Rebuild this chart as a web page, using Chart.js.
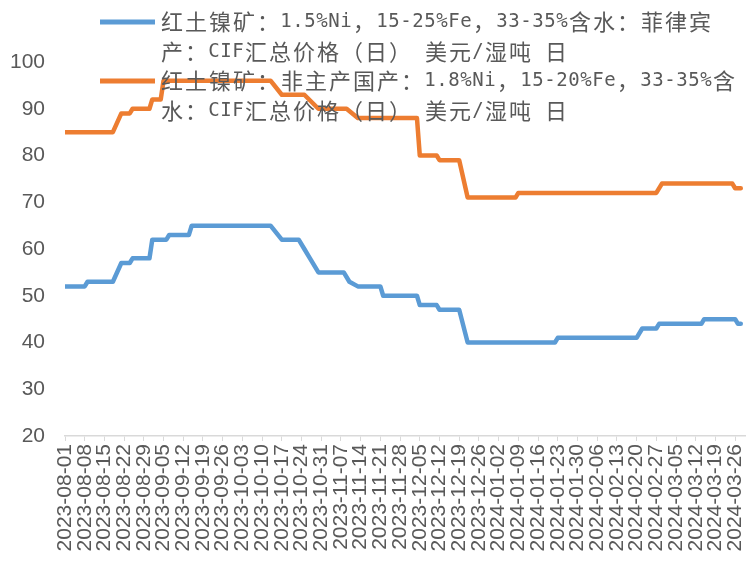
<!DOCTYPE html>
<html><head><meta charset="utf-8">
<script src="https://cdn.jsdelivr.net/npm/chart.js@4.4.0/dist/chart.umd.min.js"></script>
<style>html,body{margin:0;padding:0;background:#fff;} #wrap{width:748px;height:563px;}</style>
</head><body><div id="wrap"><canvas id="c" width="748" height="563"></canvas></div>
<script>
const tickLabels = ["2023-08-01","2023-08-08","2023-08-15","2023-08-22","2023-08-29","2023-09-05","2023-09-12","2023-09-19","2023-09-26","2023-10-03","2023-10-10","2023-10-17","2023-10-24","2023-10-31","2023-11-07","2023-11-14","2023-11-21","2023-11-28","2023-12-05","2023-12-12","2023-12-19","2023-12-26","2024-01-02","2024-01-09","2024-01-16","2024-01-23","2024-01-30","2024-02-06","2024-02-13","2024-02-20","2024-02-27","2024-03-05","2024-03-12","2024-03-19","2024-03-26"];
const yTickValues = [20,30,40,50,60,70,80,90,100];

const blueLabel = ["红土镍矿：1.5%Ni，15-25%Fe，33-35%含水：菲律宾","产：CIF汇总价格（日） 美元/湿吨 日"];
const blueDates = ["2023-08-01","2023-08-08","2023-08-09","2023-08-18","2023-08-21","2023-08-24","2023-08-25","2023-08-31","2023-09-01","2023-09-06","2023-09-07","2023-09-14","2023-09-15","2023-10-13","2023-10-17","2023-10-23","2023-10-25","2023-10-27","2023-10-30","2023-11-08","2023-11-10","2023-11-13","2023-11-21","2023-11-22","2023-12-04","2023-12-05","2023-12-11","2023-12-12","2023-12-19","2023-12-22","2024-01-22","2024-01-23","2024-02-20","2024-02-22","2024-02-27","2024-02-28","2024-03-14","2024-03-15","2024-03-26","2024-03-27","2024-03-28"];
const blueValues = [52,52,53,53,57,57,58,58,62,62,63,63,65,65,62,62,60,58,55,55,53,52,52,50,50,48,48,47,47,40,40,41,41,43,43,44,44,45,45,44,44];

const orangeLabel = ["红土镍矿：非主产国产：1.8%Ni，15-20%Fe，33-35%含","水：CIF汇总价格（日） 美元/湿吨 日"];
const orangeDates = ["2023-08-01","2023-08-18","2023-08-21","2023-08-24","2023-08-25","2023-08-31","2023-09-01","2023-09-04","2023-09-05","2023-10-13","2023-10-17","2023-10-25","2023-10-30","2023-11-09","2023-11-13","2023-12-04","2023-12-05","2023-12-11","2023-12-12","2023-12-19","2023-12-22","2024-01-08","2024-01-09","2024-02-27","2024-02-29","2024-03-25","2024-03-26","2024-03-28"];
const orangeValues = [85,85,89,89,90,90,92,92,96,96,93,93,90,90,88,88,80,80,79,79,71,71,72,72,74,74,73,73];

const BLUE = '#5B9BD5', ORANGE = '#ED7D31', TEXT = '#595959', AXIS = '#D9D9D9';

function dayIndex(s){
  const a = s.split('-').map(Number), b = tickLabels[0].split('-').map(Number);
  return (Date.UTC(a[0],a[1]-1,a[2]) - Date.UTC(b[0],b[1]-1,b[2]))/86400000;
}
function pts(dates, vals){ return dates.map((d,i)=>({x: dayIndex(d), y: vals[i]})); }

function isFull(ch){ return ch.codePointAt(0) >= 0x2E80; }
function drawMono(ctx, str, x, y, full){
  const half = full/2;
  let cx = x;
  for (const ch of str){
    const f = isFull(ch);
    const w = f ? full : half;
    ctx.font = f ? '22px "Noto Sans CJK SC"' : '19px "DejaVu Sans Mono"';
    ctx.fillText(ch, cx + w/2, y);
    cx += w;
  }
}
const legendPlugin = {
  id: 'monoLegend',
  afterDatasetsDraw(chart){
    const ctx = chart.ctx;
    const rows = [22, 81];
    ctx.save();
    chart.data.datasets.forEach((ds, i) => {
      const y0 = rows[i];
      ctx.strokeStyle = ds.borderColor; ctx.lineWidth = 5; ctx.lineCap = 'butt';
      ctx.beginPath(); ctx.moveTo(100, y0); ctx.lineTo(155, y0); ctx.stroke();
      ctx.fillStyle = TEXT;
      ctx.textAlign = 'center'; ctx.textBaseline = 'middle';
      ds.legendLines.forEach((line, j) => drawMono(ctx, line, 160, y0 + j*30, 24));
    });
    ctx.restore();
  }
};

new Chart(document.getElementById('c'), {
  type: 'line',
  data: { datasets: [
    { label: blueLabel.join(''), legendLines: blueLabel, data: pts(blueDates, blueValues), borderColor: BLUE, backgroundColor: BLUE },
    { label: orangeLabel.join(''), legendLines: orangeLabel, data: pts(orangeDates, orangeValues), borderColor: ORANGE, backgroundColor: ORANGE }
  ]},
  options: {
    responsive: false, animation: false,
    layout: { padding: { top: 62, right: 3, left: 0, bottom: 0 } },
    elements: { line: { borderWidth: 4.5, tension: 0, borderJoinStyle: 'round', borderCapStyle: 'round' }, point: { radius: 0 } },
    plugins: { legend: { display: false }, tooltip: { enabled: false } },
    scales: {
      x: {
        type: 'linear', min: 0, max: 241.5,
        afterBuildTicks(scale){ scale.ticks = tickLabels.map(t => ({ value: dayIndex(t) })); },
        afterFit(scale){ scale.height = 127; scale.paddingRight = 0; scale.paddingLeft = 0; },
        grid: { display: true, drawOnChartArea: false, drawTicks: true, tickLength: 5, color: AXIS, lineWidth: 1 },
        border: { display: true, color: AXIS, width: 1.5 },
        ticks: { autoSkip: false, maxRotation: 90, minRotation: 90, padding: 3, color: TEXT,
          font: { family: '"Liberation Sans", Arial, sans-serif', size: 21 },
          callback: (v, i) => tickLabels[i] }
      },
      y: {
        min: 20, max: 100,
        afterBuildTicks(scale){ scale.ticks = yTickValues.map(v => ({ value: v })); },
        afterFit(scale){ scale.width = 65; },
        grid: { display: false, drawTicks: false },
        border: { display: false },
        ticks: { padding: 20, color: TEXT, font: { family: '"Liberation Sans", Arial, sans-serif', size: 21 } }
      }
    }
  },
  plugins: [legendPlugin]
});
</script></body></html>
